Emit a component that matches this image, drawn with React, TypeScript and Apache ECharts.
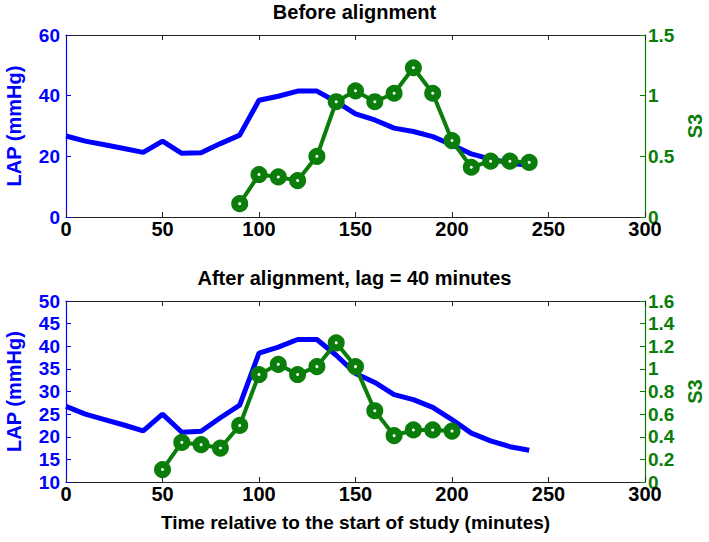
import React, { useEffect, useRef } from "react";
import * as echarts from "echarts";

const lapTimes = [0, 10, 20, 30, 40, 50, 60, 70, 80, 90, 100, 110, 120, 130, 140, 150, 160, 170, 180, 190, 200, 210, 220, 230, 240];
const lapValues = [26.7, 25.0, 23.8, 22.6, 21.3, 25.0, 21.0, 21.2, 24.2, 27.0, 38.5, 39.8, 41.5, 41.5, 38.0, 34.0, 32.0, 29.3, 28.2, 26.5, 23.8, 20.8, 19.1, 17.8, 17.0];
const s3Times = [90, 100, 110, 120, 130, 140, 150, 160, 170, 180, 190, 200, 210, 220, 230, 240];
const s3Values = [0.11, 0.35, 0.33, 0.30, 0.50, 0.95, 1.04, 0.95, 1.02, 1.23, 1.02, 0.63, 0.41, 0.46, 0.46, 0.45];
const lagMinutes = 40;
const xTicks = { min: 0, max: 300, interval: 50 };
const titles = ["Before alignment", "After alignment, lag = 40 minutes"];
const xName = "Time relative to the start of study (minutes)";
const leftName = "LAP (mmHg)";
const rightName = "S3";

const BLUE = "#0000ff";
const GREEN = "#0a7d0a";
const FONT = "'Liberation Sans', Arial, sans-serif";

export default function App() {
  const ref = useRef<HTMLDivElement>(null);
  useEffect(() => {
    if (!ref.current) return;
    const chart = echarts.init(ref.current, null, { renderer: "svg" });
    const lapData = lapTimes.map((t, i) => [t, lapValues[i]]);
    const s3Before = s3Times.map((t, i) => [t, s3Values[i]]);
    const s3After = s3Times.map((t, i) => [t - lagMinutes, s3Values[i]]);

    const xBottom = (grid: number, showName: boolean) => ({
      type: "value",
      gridIndex: grid,
      position: "bottom",
      min: xTicks.min,
      max: xTicks.max,
      interval: xTicks.interval,
      name: showName ? xName : "",
      nameLocation: "middle",
      nameGap: 31,
      nameTextStyle: { color: "#000", fontSize: 19, fontWeight: "bold", fontFamily: FONT },
      axisLine: { show: true, onZero: false, lineStyle: { color: "#222", width: 1.2 } },
      axisTick: { show: true, inside: true, length: 5, lineStyle: { color: "#222" } },
      axisLabel: { color: "#000", fontSize: 20, fontWeight: "bold", fontFamily: FONT, margin: 2 },
      splitLine: { show: false },
    });
    const xTop = (grid: number) => ({
      type: "value",
      gridIndex: grid,
      position: "top",
      min: xTicks.min,
      max: xTicks.max,
      interval: xTicks.interval,
      axisLine: { show: true, onZero: false, lineStyle: { color: "#222", width: 1.2 } },
      axisTick: { show: true, inside: true, length: 5, lineStyle: { color: "#222" } },
      axisLabel: { show: false },
      splitLine: { show: false },
    });
    const yAxis = (grid: number, side: "left" | "right", min: number, max: number, interval: number, color: string, name: string, gap: number) => ({
      type: "value",
      gridIndex: grid,
      position: side,
      min,
      max,
      interval,
      name,
      nameLocation: "middle",
      nameRotate: 90,
      nameGap: gap,
      nameTextStyle: { color, fontSize: 20, fontWeight: "bold", fontFamily: FONT },
      axisLine: { show: true, onZero: false, lineStyle: { color, width: 1.2 } },
      axisTick: { show: true, inside: true, length: 5, lineStyle: { color } },
      axisLabel: { color, fontSize: 19, fontWeight: "bold", fontFamily: FONT, margin: side === "left" ? 6 : 3 },
      splitLine: { show: false },
    });

    const lapSeries = (xi: number, yi: number) => ({
      type: "line",
      xAxisIndex: xi,
      yAxisIndex: yi,
      data: lapData,
      showSymbol: false,
      symbol: "none",
      lineStyle: { color: BLUE, width: 5 },
      z: 2,
    });
    const s3Series = (xi: number, yi: number, data: number[][]) => ({
      type: "line",
      xAxisIndex: xi,
      yAxisIndex: yi,
      data,
      symbol: "circle",
      symbolSize: 10,
      lineStyle: { color: GREEN, width: 4 },
      itemStyle: { color: "#ffffff", borderColor: GREEN, borderWidth: 7 },
      z: 3,
    });

    chart.setOption({
      animation: false,
      backgroundColor: "#ffffff",
      title: [
        { text: titles[0], left: "center", top: -3, textStyle: { fontSize: 20, fontWeight: "bold", color: "#000", fontFamily: FONT } },
        { text: titles[1], left: "center", top: 263, textStyle: { fontSize: 20, fontWeight: "bold", color: "#000", fontFamily: FONT } },
      ],
      grid: [
        { left: 66, right: 64, top: 35, height: 182, outerBoundsMode: "none", containLabel: false },
        { left: 66, right: 64, top: 301, height: 181, outerBoundsMode: "none", containLabel: false },
      ],
      xAxis: [xBottom(0, false), xTop(0), xBottom(1, true), xTop(1)],
      yAxis: [
        yAxis(0, "left", 0, 60, 20, BLUE, leftName, 42),
        yAxis(0, "right", 0, 1.5, 0.5, GREEN, rightName, 39),
        yAxis(1, "left", 10, 50, 5, BLUE, leftName, 42),
        yAxis(1, "right", 0, 1.6, 0.2, GREEN, rightName, 39),
      ],
      series: [
        lapSeries(0, 0),
        s3Series(0, 1, s3Before),
        lapSeries(2, 2),
        s3Series(2, 3, s3After),
      ],
    });
    return () => chart.dispose();
  }, []);
  return <div ref={ref} style={{ position: "fixed", left: 0, top: 0, width: 709, height: 542 }} />;
}
